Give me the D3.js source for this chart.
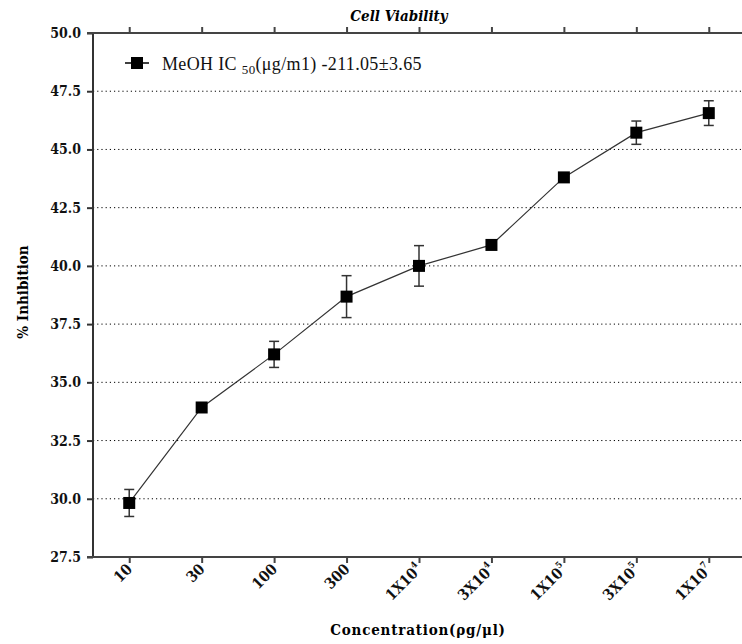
<!DOCTYPE html>
<html>
<head>
<meta charset="utf-8">
<script src="https://cdn.jsdelivr.net/npm/d3@7"></script>
<style>
  body { margin: 0; background: #fff; }
  svg text { font-family: "Liberation Serif", serif; }
  svg text.b { font-family: "DejaVu Serif Condensed", "DejaVu Serif", serif; font-weight: bold; }
</style>
</head>
<body>
<div id="chart"></div>
<script>
// data
var concLabels = [["10"], ["30"], ["100"], ["300"], ["1X10", "4"], ["3X10", "4"], ["1X10", "5"], ["3X10", "5"], ["1X10", "7"]];
var inhibition = [29.82, 33.92, 36.2, 38.68, 40.0, 40.9, 43.8, 45.72, 46.56];
var errors = [0.58, 0, 0.56, 0.9, 0.87, 0, 0, 0.5, 0.53];
var yTicks = [27.5, 30.0, 32.5, 35.0, 37.5, 40.0, 42.5, 45.0, 47.5, 50.0];

var width = 742, height = 644;
var margin = {top: 33, right: 0, bottom: 87, left: 93};

var svg = d3.select("#chart")
  .append("svg")
  .attr("width", width)
  .attr("height", height);

var keys = concLabels.map((d, i) => i);

var x = d3.scalePoint()
  .domain(keys)
  .range([margin.left, 745])
  .padding(0.5);

var y = d3.scaleLinear()
  .domain([27.5, 50])
  .range([height - margin.bottom, margin.top]);

// grid
svg.append("g")
  .selectAll("line")
  .data(yTicks.filter(d => d > 27.5 && d < 50))
  .join("line")
  .attr("x1", margin.left)
  .attr("x2", width)
  .attr("y1", d => y(d))
  .attr("y2", d => y(d))
  .style("stroke", "#000")
  .style("stroke-width", 1)
  .style("stroke-dasharray", "1.2,3");

// left axis
var yAxis = svg.append("g")
  .attr("transform", `translate(${margin.left},0)`)
  .call(d3.axisLeft(y).tickValues(yTicks).tickFormat(d3.format(".1f")).tickSize(6).tickPadding(6));
yAxis.attr("font-family", null);
yAxis.selectAll("line, path").style("stroke", "#333").style("stroke-width", 2);
yAxis.select(".domain").attr("d", `M0,${y(27.5)}V${y(50)}`);
yAxis.selectAll("text")
  .attr("class", "b")
  .style("font-size", "14px")
  .style("fill", "#111");

// bottom axis
var xAxis = svg.append("g")
  .attr("transform", `translate(0,${y(27.5)})`)
  .call(d3.axisBottom(x).tickSize(6).tickFormat(""));
xAxis.selectAll("line, path").style("stroke", "#444").style("stroke-width", 2);
xAxis.select(".domain").attr("d", `M${margin.left - 6},0H${width}`);

// top axis
var topAxis = svg.append("g")
  .attr("transform", `translate(0,${y(50)})`)
  .call(d3.axisTop(x).tickSize(6).tickFormat(""));
topAxis.selectAll("line, path").style("stroke", "#444").style("stroke-width", 2);
topAxis.select(".domain").attr("d", `M${margin.left - 6},0H${width}`);

// x tick labels rotated
var xl = svg.append("g").selectAll("text")
  .data(keys)
  .join("text")
  .attr("class", "b")
  .attr("transform", d => `translate(${x(d) + 4},${y(27.5) + 13}) rotate(-45)`)
  .attr("text-anchor", "end")
  .style("font-size", "15px")
  .style("fill", "#111");
xl.append("tspan").text(d => concLabels[d][0]);
xl.filter(d => concLabels[d].length > 1)
  .append("tspan")
  .attr("dy", -7)
  .style("font-size", "9px")
  .text(d => concLabels[d][1]);

// line
var line = d3.line()
  .x((d, i) => x(i))
  .y(d => y(d));

svg.append("path")
  .datum(inhibition)
  .attr("d", line)
  .style("fill", "none")
  .style("stroke", "#333")
  .style("stroke-width", 1.2);

// error bars
var eb = svg.append("g").selectAll("g")
  .data(keys.filter(i => errors[i] > 0))
  .join("g")
  .style("stroke", "#333")
  .style("stroke-width", 1.5);
eb.append("line")
  .attr("x1", i => x(i)).attr("x2", i => x(i))
  .attr("y1", i => y(inhibition[i] + errors[i]))
  .attr("y2", i => y(inhibition[i] - errors[i]));
eb.append("line")
  .attr("x1", i => x(i) - 5).attr("x2", i => x(i) + 5)
  .attr("y1", i => y(inhibition[i] + errors[i]))
  .attr("y2", i => y(inhibition[i] + errors[i]));
eb.append("line")
  .attr("x1", i => x(i) - 5).attr("x2", i => x(i) + 5)
  .attr("y1", i => y(inhibition[i] - errors[i]))
  .attr("y2", i => y(inhibition[i] - errors[i]));

// markers
svg.append("g").selectAll("rect")
  .data(inhibition)
  .join("rect")
  .attr("x", (d, i) => x(i) - 6)
  .attr("y", d => y(d) - 6)
  .attr("width", 12)
  .attr("height", 12)
  .style("fill", "#000");

// title
svg.append("text")
  .attr("class", "b")
  .attr("x", 399)
  .attr("y", 21)
  .attr("text-anchor", "middle")
  .style("font-size", "15px")
  .style("font-style", "italic")
  .text("Cell Viability");

// axis titles
svg.append("text")
  .attr("class", "b")
  .attr("x", 418)
  .attr("y", 635)
  .attr("text-anchor", "middle")
  .style("font-size", "15px")
  .style("letter-spacing", "0.8px")
  .text("Concentration(ρg/μl)");

svg.append("text")
  .attr("class", "b")
  .attr("transform", "translate(28,292) rotate(-90)")
  .attr("text-anchor", "middle")
  .style("font-size", "15px")
  .text("% Inhibition");

// legend
var legend = svg.append("g").attr("transform", "translate(125,63)");
legend.append("line")
  .attr("x1", 0).attr("x2", 24)
  .style("stroke", "#000").style("stroke-width", 1.5);
legend.append("rect")
  .attr("x", 6).attr("y", -6).attr("width", 12).attr("height", 12)
  .style("fill", "#000");
var lt = legend.append("text")
  .attr("x", 37)
  .attr("y", 7)
  .style("font-size", "18px")
  .style("letter-spacing", "0.35px")
  .style("fill", "#111");
lt.append("tspan").text("MeOH IC ");
lt.append("tspan").attr("dy", 4).style("font-size", "13px").text("50");
lt.append("tspan").attr("dy", -4).text("(μg/m1) -211.05±3.65");
</script>
</body>
</html>
